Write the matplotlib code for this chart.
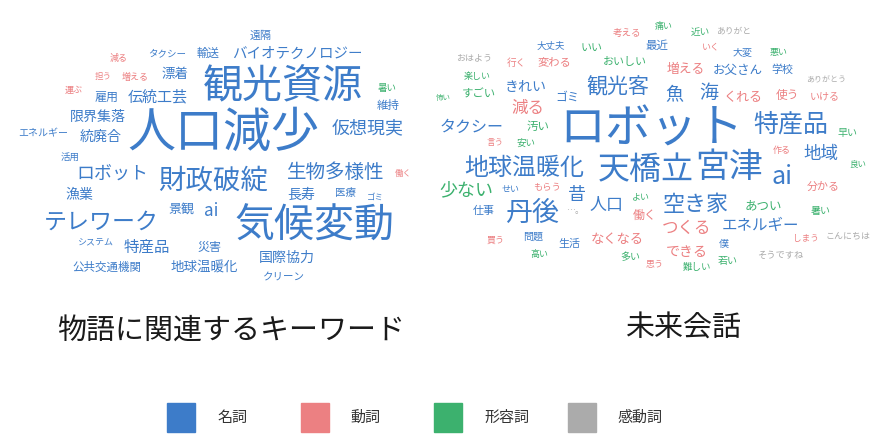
import matplotlib.pyplot as plt
from matplotlib.patches import Rectangle

plt.rcParams['font.family'] = ['Noto Sans CJK JP', 'DejaVu Sans']

# part of speech: 0 noun, 1 verb, 2 adjective, 3 interjection
pos_names = ['名詞', '動詞', '形容詞', '感動詞']
pos_colors = ['#3d7cc9', '#ec8082', '#3cb16e', '#ababab']

titles = ['物語に関連するキーワード', '未来会話']

# left cloud: keywords related to the story
left_words = ['人口減少', '観光資源', '気候変動', '財政破綻', 'テレワーク', '生物多様性',
              'ロボット', '仮想現実', '伝統工芸', 'バイオテクノロジー', '特産品', '限界集落',
              '統廃合', '漁業', '国際協力', '地球温暖化', '漂着', '長寿', '景観', 'ai',
              '雇用', '災害', '公共交通機関', '輸送', '維持', '遠隔', '医療', 'クリーン',
              'エネルギー', 'タクシー', '活用', 'システム', 'ゴミ',
              '減る', '担う', '増える', '運ぶ', '働く', '暑い']
left_pos = [0] * 33 + [1, 1, 1, 1, 1, 2]
left_weight = [48, 40, 40, 27.5, 23, 19.5, 18, 18, 15, 14.5, 15.5, 14,
               14, 14, 14, 13.5, 13.5, 14, 13, 17, 12, 12, 11.5, 11.5,
               11.5, 11, 10.5, 10.5, 10, 9.5, 9.5, 9, 8.5,
               9, 8.5, 9, 9, 8.5, 9.5]

# right cloud: future conversation
right_words = ['ロボット', '宮津', '天橋立', '丹後', 'ai', '地球温暖化', '特産品', '空き家',
               '観光客', '海', '魚', '少ない', '昔', '人口', '地域', '減る', 'タクシー',
               'つくる', 'エネルギー', 'きれい', 'できる', 'なくなる', 'くれる', 'ゴミ',
               '増える', 'お父さん', 'あつい', '働く', '最近', '使う', '汚い', 'すごい',
               'おいしい', '変わる', 'いい', '学校', '生活', '仕事', '分かる', 'いける',
               '大変', '問題', '早い', '暑い', '若い', '多い', '僕', '安い',
               '行く', '近い', '考える', '大丈夫', 'もらう', 'せい', '難しい', '悪い',
               'そうですね', 'しまう', 'こんにちは', 'いく', '痛い', '楽しい', 'よい',
               '作る', '良い', '高い', '言う', '買う', '思う', '怖い',
               'おはよう', 'ありがと', 'ありがとう', '…。']
right_pos = [0, 0, 0, 0, 0, 0, 0, 0, 0, 0, 0, 2, 0, 0, 0, 1, 0,
             1, 0, 0, 1, 1, 1, 0, 1, 0, 2, 1, 0, 1, 2, 2,
             2, 1, 2, 0, 0, 0, 1, 1, 0, 0, 2, 2, 2, 2, 0, 2,
             1, 2, 1, 0, 1, 0, 2, 2, 3, 1, 3, 1, 2, 2, 2,
             1, 2, 2, 1, 1, 1, 2, 3, 3, 3, 3]
right_weight = [46, 34, 32, 27, 25, 24, 25, 22, 21, 19, 18, 18, 18, 17, 17.5, 16.5, 16,
                16.5, 15.5, 14, 14, 13.3, 13, 12, 12.8, 12.5, 12.5, 12, 11.5, 11.7, 11.5, 11.4,
                11, 11.3, 11, 11, 11, 11, 11, 10, 10, 10, 10, 10, 10, 10, 10, 9.5,
                9.7, 9.7, 9.5, 9.5, 9.3, 9, 9.5, 9, 9.3, 8.6, 9, 9, 9, 9, 9,
                9, 8.5, 9, 8.5, 9, 9, 7.5, 9, 8.75, 8, 9]

# layout (pixel centres in the 880x442 picture)
left_xy = [(223, 133), (283, 87), (314, 227), (213, 181), (101, 222), (336, 173),
           (112, 175), (368, 128), (158, 97), (297, 54), (147, 247), (98, 117),
           (101, 137), (79, 195), (287, 258), (204, 268), (175, 74), (301, 195),
           (181, 209), (211, 211), (107, 97), (210, 247), (107, 267), (208, 53),
           (388, 105), (261, 36), (346, 193), (284, 277), (43, 133), (167, 54),
           (70, 157), (95, 243), (375, 197),
           (119, 58), (103, 77), (135, 77), (74, 90), (403, 173), (387, 88)]
right_xy = [(651, 129), (729, 167), (646, 170), (532, 213), (782, 177), (524, 168),
            (791, 125), (696, 205), (618, 87), (709, 92), (674, 95), (466, 190),
            (577, 195), (607, 205), (821, 154), (528, 108), (472, 127),
            (687, 228), (760, 226), (526, 87), (687, 252), (617, 239), (743, 98),
            (567, 97), (686, 70), (738, 70), (763, 206), (645, 215), (657, 45),
            (787, 96), (538, 126), (479, 94), (625, 62), (554, 62), (592, 48),
            (782, 70), (569, 244), (484, 211), (823, 187), (825, 96), (743, 53),
            (533, 237), (847, 133), (821, 211), (728, 261), (630, 257), (724, 244),
            (526, 143), (516, 63), (700, 32), (627, 33), (551, 46), (547, 188),
            (511, 190), (697, 267), (779, 53), (780, 255), (806, 238), (848, 236),
            (711, 47), (664, 27), (477, 77), (641, 197), (782, 150), (858, 164),
            (539, 255), (495, 143), (496, 240), (655, 265), (443, 98),
            (474, 58), (734, 31), (826, 80), (575, 210)]

fig = plt.figure(figsize=(8.8, 4.42), dpi=100)
ax = fig.add_axes([0, 0, 1, 1])
ax.set_xlim(0, 880)
ax.set_ylim(442, 0)
ax.axis('off')

px = 72 / 100  # pixel em -> points

for words, pos, weight, xy in [(left_words, left_pos, left_weight, left_xy),
                               (right_words, right_pos, right_weight, right_xy)]:
    for w, p, s, (x, y) in zip(words, pos, weight, xy):
        ax.text(x, y, w, fontsize=s * px, color=pos_colors[p],
                ha='center', va='center')

ax.text(231, 331, titles[0], fontsize=29 * px, color='#1a1a1a', ha='center', va='center')
ax.text(683, 329, titles[1], fontsize=29 * px, color='#1a1a1a', ha='center', va='center')

# legend
for i, (name, c) in enumerate(zip(pos_names, pos_colors)):
    x0 = 167 + i * 133.5
    ax.add_patch(Rectangle((x0, 403), 28, 29, color=c))
    ax.text(x0 + 50, 418, name, fontsize=15 * px, color='#333333', ha='left', va='center')

fig.savefig('out.png', dpi=100, facecolor='white')
